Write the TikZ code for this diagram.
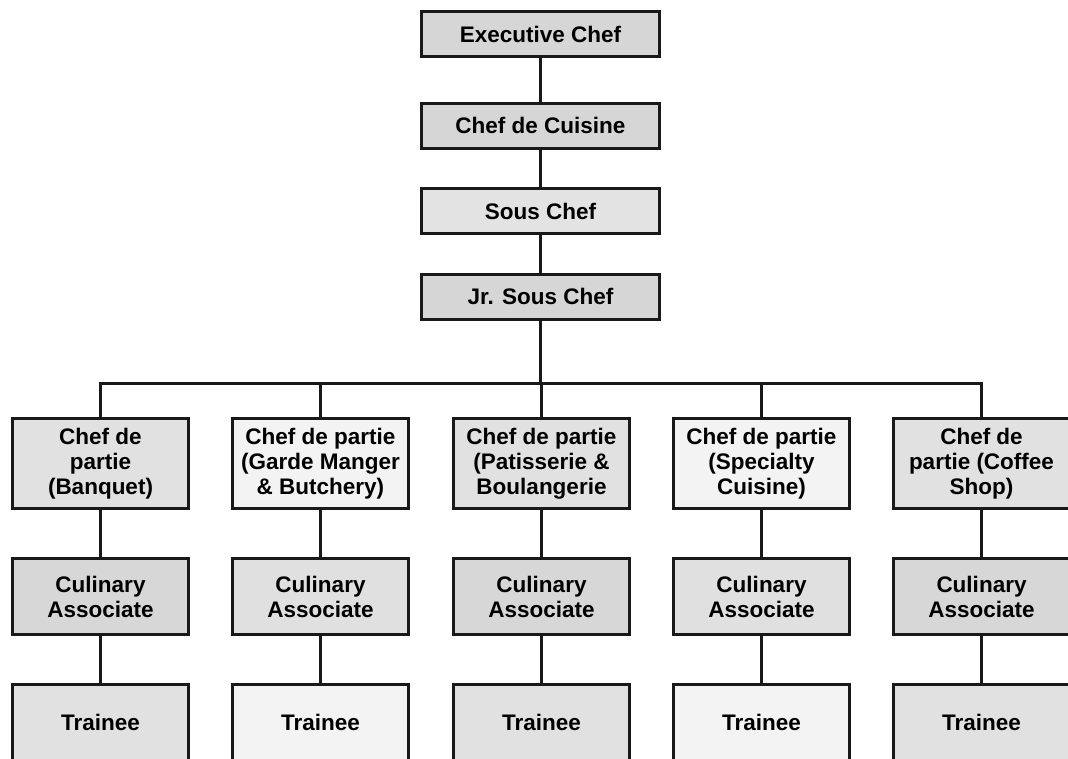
\documentclass[tikz,border=0pt]{standalone}
\usepackage{fontspec}
\setmainfont{Liberation Sans}
\begin{document}
\begin{tikzpicture}[x=1pt,y=-1pt,
  box/.style={draw=black!90, line width=3pt, align=center, inner sep=0pt,
    font=\bfseries\fontsize{22.5}{25}\selectfont},
  topbox/.style={box, minimum width=238pt, minimum height=45pt},
  rowbox/.style={box, minimum width=176pt, minimum height=90pt},
  assoc/.style={box, minimum width=176pt, minimum height=76pt},
  link/.style={line width=3pt, draw=black!90}]
\useasboundingbox (0,0) rectangle (1068,758);
\clip (0,0) rectangle (1068,758);
\definecolor{gA}{HTML}{D6D6D6}
\definecolor{gB}{HTML}{E3E3E3}
\definecolor{gC}{HTML}{E1E1E1}
\definecolor{gD}{HTML}{F3F3F3}
\definecolor{gE}{HTML}{D7D7D7}
\definecolor{gF}{HTML}{E0E0E0}
% top column
\node[topbox, fill=gA] (exec) at (540.5,34) {Executive Chef};
\node[topbox, fill=gA] (cuis) at (540.5,125.5) {Chef de Cuisine};
\node[topbox, fill=gB] (sous) at (540.5,211) {Sous Chef};
\node[topbox, fill=gA] (jr) at (540.5,296.5) {Jr. Sous Chef};
% chefs de partie
\node[rowbox, fill=gC] (p1) at (100.5,463.5) {Chef de\\partie\\(Banquet)};
\node[rowbox, fill=gD] (p2) at (320.5,463.5) {Chef de partie\\(Garde Manger\\\& Butchery)};
\node[rowbox, fill=gC] (p3) at (541.5,463.5) {Chef de partie\\(Patisserie \&\\Boulangerie};
\node[rowbox, fill=gD] (p4) at (761.5,463.5) {Chef de partie\\(Specialty\\Cuisine)};
\node[rowbox, fill=gC] (p5) at (981.5,463.5) {Chef de\\partie (Coffee\\Shop)};
% culinary associates
\node[assoc, fill=gE] (a1) at (100.5,596.5) {Culinary\\Associate};
\node[assoc, fill=gF] (a2) at (320.5,596.5) {Culinary\\Associate};
\node[assoc, fill=gE] (a3) at (541.5,596.5) {Culinary\\Associate};
\node[assoc, fill=gF] (a4) at (761.5,596.5) {Culinary\\Associate};
\node[assoc, fill=gE] (a5) at (981.5,596.5) {Culinary\\Associate};
% trainees
\node[assoc, fill=gC] (t1) at (100.5,722) {Trainee};
\node[assoc, fill=gD] (t2) at (320.5,722) {Trainee};
\node[assoc, fill=gC] (t3) at (541.5,722) {Trainee};
\node[assoc, fill=gD] (t4) at (761.5,722) {Trainee};
\node[assoc, fill=gC] (t5) at (981.5,722) {Trainee};
% connectors
\coordinate (bus) at (540.5,383);
\draw[link] (exec) -- (cuis);
\draw[link] (cuis) -- (sous);
\draw[link] (sous) -- (jr);
\draw[link] (jr) -- (bus);
\draw[link] (p1.north) |- (bus) -| (p5.north);
\draw[link] (p2.north) -- (p2.north |- bus);
\draw[link] (p3.north) -- (p3.north |- bus);
\draw[link] (p4.north) -- (p4.north |- bus);
\foreach \i in {1,...,5} {
  \draw[link] (p\i) -- (a\i);
  \draw[link] (a\i) -- (t\i);
}
\end{tikzpicture}
\end{document}
